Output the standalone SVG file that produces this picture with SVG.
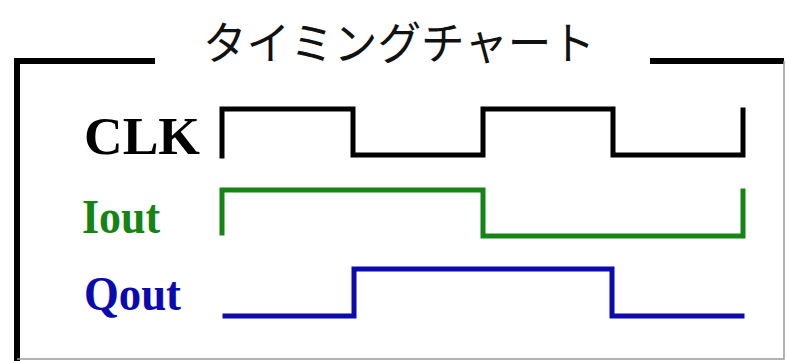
<svg xmlns="http://www.w3.org/2000/svg" width="786" height="361" viewBox="0 0 786 361">
<style>
.frame{fill:none;stroke:#000;stroke-width:6}
.edge{fill:none;stroke:#9a9a9a;stroke-width:1.5}
.wave{fill:none;stroke-width:5;stroke-linejoin:miter;stroke-linecap:square}
.lbl{font-family:"Liberation Serif","Times New Roman",serif;font-weight:bold}
.title{font-family:"Noto Sans CJK JP","Noto Sans",sans-serif;font-size:45px;fill:#111}
</style>
<rect width="786" height="361" fill="#fff"/>
<g id="frame">
<polyline class="frame" points="17,361 17,61 155,61"/>
<line class="frame" x1="650" y1="61" x2="784" y2="61"/>
<polyline class="edge" points="784,61 784,359 17,359"/>
<text class="title" x="203" y="60" textLength="392" lengthAdjust="spacingAndGlyphs">タイミングチャート</text>
</g>
<g id="clk">
<text class="lbl" x="84" y="154" font-size="52" fill="#000" textLength="116" lengthAdjust="spacingAndGlyphs">CLK</text>
</g>
<g id="iout">
<text class="lbl" x="82" y="233" font-size="48" fill="#158415" textLength="78" lengthAdjust="spacingAndGlyphs">Iout</text>
</g>
<g id="qout">
<text class="lbl" x="84" y="310" font-size="48" fill="#0a0ab0" textLength="97" lengthAdjust="spacingAndGlyphs">Qout</text>
</g>
<g id="connectors">
<polyline class="wave" stroke="#000" points="222,156 222,109 353,109 353,155 483,155 483,109 613,109 613,155 743,155 743,110"/>
<polyline class="wave" stroke="#158415" points="222,233 222,190 483,190 483,236 743,236 743,191"/>
<polyline class="wave" stroke="#0a0ab0" points="225,316 354,316 354,269 612,269 612,316 742,316"/>
</g>
</svg>
